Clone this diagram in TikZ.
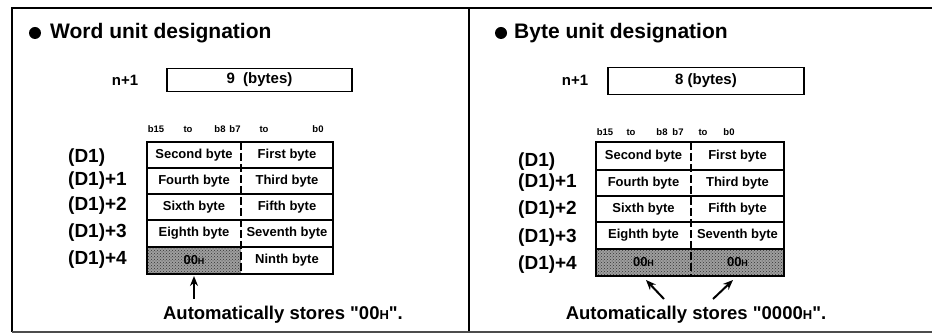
\documentclass[tikz,border=0pt]{standalone}
\usepackage{fontspec}
\setmainfont{Liberation Sans}[Ligatures=TeXOff]
\usetikzlibrary{arrows.meta,patterns}
\newcommand{\fsz}[1]{\fontsize{#1}{#1}\selectfont}
\newcommand{\smallh}[1]{{\fontsize{#1}{#1}\selectfont H}}
\newcommand{\dq}{\symbol{34}}
\begin{document}
\begin{tikzpicture}[x=1pt,y=-1pt,
  frameline/.style={line width=2.4pt},
  tbl/.style={line width=1.6pt},
  divline/.style={line width=1.3pt,dash pattern=on 8pt off 3pt},
  titletext/.style={font=\bfseries\fsz{21},anchor=west,inner sep=0pt},
  dot/.style={circle,fill=black,inner sep=0pt,minimum size=12pt},
  cell/.style={font=\bfseries\fsz{13},inner sep=0pt},
  lbl/.style={font=\bfseries\fsz{19},anchor=west,inner sep=0pt},
  bits/.style={font=\bfseries\fsz{9.5},inner sep=0pt},
  nbox/.style={draw,tbl,font=\bfseries\fsz{15},inner sep=0pt},
  nlbl/.style={font=\bfseries\fsz{15},inner sep=0pt},
  note/.style={font=\bfseries\fsz{18.5},inner sep=0pt},
  shadebg/.style={fill=black!38},
  shadedots/.style={pattern=crosshatch dots,pattern color=black!80},
  arr/.style={line width=2pt,-{Stealth[length=10pt,width=8pt]}}
]
\useasboundingbox (0,0) rectangle (932,336);
% frame
\draw[frameline] (12,332) -- (12,8) -- (932,8);
\draw[frameline] (469,8) -- (469,332);
\draw[frameline,black!70] (12,332) -- (932,332);

% ================= LEFT PANEL =================
\node[dot] (Ldot) at (35,33) {};
\node[titletext] (Ltitle) at (50,33) {Word unit designation};
\node[nlbl] (Ln) at (125,80) {n+1};
\node[nbox,minimum width=185pt,minimum height=23pt] (Lbox) at (259.5,80) {9\ \ (bytes)};

\node[bits] (Lb15) at (156,129) {b15};
\node[bits] (Lto1) at (188,129) {to};
\node[bits] (Lb8)  at (220,129) {b8};
\node[bits] (Lb7)  at (235,129) {b7};
\node[bits] (Lto2) at (264,129) {to};
\node[bits] (Lb0)  at (318,129) {b0};

\fill[shadebg] (147,247) rectangle (241,274);
\fill[shadedots] (147,247) rectangle (241,274);
\draw[tbl] (147,142) rectangle (333,274);
\draw[tbl] (147,168) -- (333,168);
\draw[tbl] (147,194) -- (333,194);
\draw[tbl] (147,220) -- (333,220);
\draw[tbl] (147,247) -- (333,247);
\draw[divline] (241,142) -- (241,274);

\node[cell] (L1a) at (194,155) {Second byte};
\node[cell] (L1b) at (287,155) {First byte};
\node[cell] (L2a) at (194,181) {Fourth byte};
\node[cell] (L2b) at (287,181) {Third byte};
\node[cell] (L3a) at (194,207) {Sixth byte};
\node[cell] (L3b) at (287,207) {Fifth byte};
\node[cell] (L4a) at (194,233.5) {Eighth byte};
\node[cell] (L4b) at (287,233.5) {Seventh byte};
\node[cell] (L5a) at (194,260.5) {00\smallh{9}};
\node[cell] (L5b) at (287,260.5) {Ninth byte};

\node[lbl] (Ld0) at (68,158) {(D1)};
\node[lbl] (Ld1) at (68,181) {(D1)+1};
\node[lbl] (Ld2) at (68,206) {(D1)+2};
\node[lbl] (Ld3) at (68,233) {(D1)+3};
\node[lbl] (Ld4) at (68,260) {(D1)+4};

\coordinate (Lat) at (194,299);
\coordinate (Lah) at (194,276);
\draw[arr] (Lat) -- (Lah);
\node[note] (Lnote) at (283,315) {Automatically stores \dq 00\smallh{13}\dq.};

% ================= RIGHT PANEL =================
\node[dot] (Rdot) at (501,33) {};
\node[titletext] (Rtitle) at (514,33) {Byte unit designation};
\node[nlbl] (Rn) at (575,80) {n+1};
\node[nbox,minimum width=196pt,minimum height=27pt] (Rbox) at (706,81) {8 (bytes)};

\node[bits] (Rb15) at (605,132) {b15};
\node[bits] (Rto1) at (631,132) {to};
\node[bits] (Rb8)  at (662,132) {b8};
\node[bits] (Rb7)  at (678,132) {b7};
\node[bits] (Rto2) at (703,132) {to};
\node[bits] (Rb0)  at (729,132) {b0};

\fill[shadebg] (596,249) rectangle (784,276);
\fill[shadedots] (596,249) rectangle (784,276);
\draw[tbl] (596,142) rectangle (784,276);
\draw[tbl] (596,170) -- (784,170);
\draw[tbl] (596,196) -- (784,196);
\draw[tbl] (596,222) -- (784,222);
\draw[tbl] (596,249) -- (784,249);
\draw[divline] (691,142) -- (691,276);

\node[cell] (R1a) at (643.5,156) {Second byte};
\node[cell] (R1b) at (737.5,156) {First byte};
\node[cell] (R2a) at (643.5,183) {Fourth byte};
\node[cell] (R2b) at (737.5,183) {Third byte};
\node[cell] (R3a) at (643.5,209) {Sixth byte};
\node[cell] (R3b) at (737.5,209) {Fifth byte};
\node[cell] (R4a) at (643.5,235.5) {Eighth byte};
\node[cell] (R4b) at (737.5,235.5) {Seventh byte};
\node[cell] (R5a) at (643.5,262.5) {00\smallh{9}};
\node[cell] (R5b) at (737.5,262.5) {00\smallh{9}};

\node[lbl] (Rd0) at (518,162) {(D1)};
\node[lbl] (Rd1) at (518,183) {(D1)+1};
\node[lbl] (Rd2) at (518,210) {(D1)+2};
\node[lbl] (Rd3) at (518,238) {(D1)+3};
\node[lbl] (Rd4) at (518,265) {(D1)+4};

\coordinate (Rat1) at (664,299);
\coordinate (Rah1) at (646,280);
\coordinate (Rat2) at (713,299);
\coordinate (Rah2) at (733,280);
\draw[arr] (Rat1) -- (Rah1);
\draw[arr] (Rat2) -- (Rah2);
\node[note] (Rnote) at (696,315) {Automatically stores \dq 0000\smallh{13}\dq.};
\end{tikzpicture}
\end{document}
